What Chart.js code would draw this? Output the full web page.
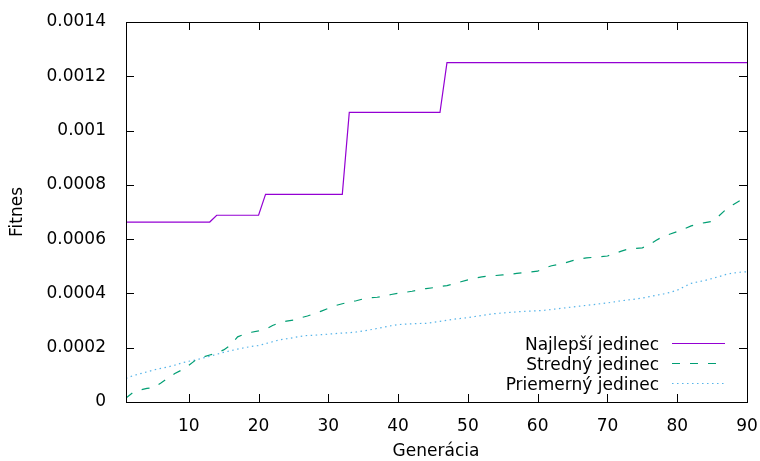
<!DOCTYPE html>
<html>
<head>
<meta charset="utf-8">
<script src="https://cdn.jsdelivr.net/npm/chart.js@4"></script>
<style>
  html, body { margin: 0; padding: 0; background: #fff; }
  #wrap { width: 760px; height: 461px; position: relative; }
</style>
</head>
<body>
<div id="wrap"><canvas id="plots"></canvas></div>
<script>
// generacie 1..90
const generacie = []
for (let g = 1; g <= 90; g++) generacie.push(g)

const najlepsi = [
  0.000663, 0.000663, 0.000663, 0.000663, 0.000663, 0.000663, 0.000663, 0.000663, 0.000663, 0.000663,
  0.000663, 0.000663, 0.000663, 0.000688, 0.000688, 0.000688, 0.000688, 0.000688, 0.000688, 0.000688,
  0.000765, 0.000765, 0.000765, 0.000765, 0.000765, 0.000765, 0.000765, 0.000765, 0.000765, 0.000765,
  0.000765, 0.000765, 0.001067, 0.001067, 0.001067, 0.001067, 0.001067, 0.001067, 0.001067, 0.001067,
  0.001067, 0.001067, 0.001067, 0.001067, 0.001067, 0.001067, 0.00125, 0.00125, 0.00125, 0.00125,
  0.00125, 0.00125, 0.00125, 0.00125, 0.00125, 0.00125, 0.00125, 0.00125, 0.00125, 0.00125,
  0.00125, 0.00125, 0.00125, 0.00125, 0.00125, 0.00125, 0.00125, 0.00125, 0.00125, 0.00125,
  0.00125, 0.00125, 0.00125, 0.00125, 0.00125, 0.00125, 0.00125, 0.00125, 0.00125, 0.00125,
  0.00125, 0.00125, 0.00125, 0.00125, 0.00125, 0.00125, 0.00125, 0.00125, 0.00125, 0.00125
]

const stredny = [
  0.000015, 0.000035, 0.000044, 0.000050, 0.000053, 0.000070, 0.000088, 0.000105, 0.000118, 0.000135,
  0.000155, 0.000165, 0.000173, 0.000180, 0.000192, 0.000210, 0.000240, 0.000250, 0.000257, 0.000262,
  0.000268, 0.000282, 0.000292, 0.000298, 0.000302, 0.000310, 0.000317, 0.000325, 0.000335, 0.000345,
  0.000355, 0.000362, 0.000368, 0.000373, 0.000380, 0.000384, 0.000386, 0.000390, 0.000396, 0.000401,
  0.000404, 0.000408, 0.000413, 0.000418, 0.000421, 0.000425, 0.000429, 0.000435, 0.000443, 0.000450,
  0.000456, 0.000461, 0.000464, 0.000466, 0.000468, 0.000470, 0.000474, 0.000477, 0.000479, 0.000482,
  0.000494, 0.000502, 0.000507, 0.000513, 0.000521, 0.000527, 0.000531, 0.000533, 0.000535, 0.000538,
  0.000546, 0.000556, 0.000564, 0.000566, 0.000568, 0.000580, 0.000596, 0.000610, 0.000619, 0.000628,
  0.000638, 0.000649, 0.000656, 0.000661, 0.000665, 0.000686, 0.000710, 0.000727, 0.000742, 0.000755
]

const priemerny = [
  0.000087, 0.000097, 0.000104, 0.000111, 0.000118, 0.000124, 0.000129, 0.000136, 0.000144, 0.000150,
  0.000155, 0.000162, 0.000168, 0.000176, 0.000183, 0.000189, 0.000195, 0.000200, 0.000205, 0.000208,
  0.000215, 0.000222, 0.000229, 0.000233, 0.000237, 0.000242, 0.000245, 0.000246, 0.000248, 0.000250,
  0.000252, 0.000254, 0.000255, 0.000258, 0.000262, 0.000266, 0.000271, 0.000276, 0.000281, 0.000285,
  0.000287, 0.000288, 0.000289, 0.000290, 0.000293, 0.000297, 0.000301, 0.000305, 0.000308, 0.000311,
  0.000315, 0.000319, 0.000323, 0.000326, 0.000328, 0.000330, 0.000332, 0.000334, 0.000335, 0.000336,
  0.000338, 0.000341, 0.000344, 0.000347, 0.000350, 0.000353, 0.000356, 0.000359, 0.000362, 0.000365,
  0.000369, 0.000373, 0.000376, 0.000379, 0.000383, 0.000388, 0.000393, 0.000398, 0.000404, 0.000412,
  0.000425, 0.000437, 0.000443, 0.000448, 0.000455, 0.000462, 0.000470, 0.000475, 0.000478, 0.000480
]

const nazvy = ['Najlepší jedinec', 'Stredný jedinec', 'Priemerný jedinec']
const xTicky = [10, 20, 30, 40, 50, 60, 70, 80, 90]
const yTicky = [0, 0.0002, 0.0004, 0.0006, 0.0008, 0.001, 0.0012, 0.0014]

const FONT = 'DejaVu Sans'
const farby = ['#9400d3', '#009e73', '#56b4e9']
const ciarky = [[], [8, 10], [1.5, 3.5]]

function body(arr) {
  return arr.map((v, i) => ({ x: generacie[i], y: v }))
}

// ramik, ticky dovnutra, popisy osi a legenda ako v gnuplote
const gnuplotLook = {
  id: 'gnuplotLook',
  afterDraw(chart) {
    const ctx = chart.ctx
    const a = chart.chartArea
    const xs = chart.scales.x
    const ys = chart.scales.y
    ctx.save()
    ctx.strokeStyle = '#000'
    ctx.lineWidth = 1
    ctx.beginPath()
    xTicky.forEach(t => {
      const px = Math.round(xs.getPixelForValue(t)) + 0.5
      ctx.moveTo(px, a.bottom); ctx.lineTo(px, a.bottom - 8)
      ctx.moveTo(px, a.top); ctx.lineTo(px, a.top + 8)
    })
    yTicky.forEach(t => {
      const py = Math.round(ys.getPixelForValue(t)) + 0.5
      ctx.moveTo(a.left, py); ctx.lineTo(a.left + 8, py)
      ctx.moveTo(a.right, py); ctx.lineTo(a.right - 8, py)
    })
    ctx.stroke()
    ctx.strokeRect(Math.round(a.left) + 0.5, Math.round(a.top) + 0.5,
      Math.round(a.right - a.left), Math.round(a.bottom - a.top))

    ctx.fillStyle = '#000'
    ctx.font = '17px "' + FONT + '"'
    ctx.textAlign = 'center'
    ctx.textBaseline = 'middle'
    ctx.fillText('Generácia', 436, 452)
    ctx.save()
    ctx.translate(18, 212)
    ctx.rotate(-Math.PI / 2)
    ctx.fillText('Fitnes', 0, 0)
    ctx.restore()

    // legenda
    ctx.textAlign = 'right'
    ctx.textBaseline = 'alphabetic'
    nazvy.forEach((n, i) => {
      const y = 350 + i * 20
      ctx.fillStyle = '#000'
      ctx.fillText(n, 659, y)
      ctx.strokeStyle = farby[i]
      ctx.lineWidth = 1.2
      ctx.setLineDash(ciarky[i])
      ctx.beginPath()
      ctx.moveTo(672, Math.round(y - 7) + 0.5)
      ctx.lineTo(725, Math.round(y - 7) + 0.5)
      ctx.stroke()
    })
    ctx.setLineDash([])
    ctx.restore()
  }
}

const plots = document.getElementById('plots')
const chart = new Chart(plots, {
  type: 'line',
  data: {
    datasets: [najlepsi, stredny, priemerny].map((arr, i) => ({
      label: nazvy[i],
      data: body(arr),
      borderColor: farby[i],
      borderWidth: 1.2,
      borderDash: ciarky[i],
      pointRadius: 0,
      fill: false,
      tension: 0
    }))
  },
  options: {
    responsive: true,
    maintainAspectRatio: false,
    animation: false,
    layout: { padding: { left: 0, right: 13, top: 22, bottom: 0 } },
    plugins: { legend: { display: false }, tooltip: { enabled: false } },
    scales: {
      x: {
        type: 'linear',
        min: 1,
        max: 90,
        grid: { display: false },
        border: { display: false },
        afterBuildTicks: s => { s.ticks = xTicky.map(v => ({ value: v })) },
        afterFit: s => { s.height = 59; s.paddingLeft = 0; s.paddingRight = 0 },
        ticks: {
          color: '#000',
          font: { family: FONT, size: 17 },
          padding: 6,
          maxRotation: 0,
          autoSkip: false,
          callback: v => String(v)
        }
      },
      y: {
        min: 0,
        max: 0.0014,
        grid: { display: false },
        border: { display: false },
        afterBuildTicks: s => { s.ticks = yTicky.map(v => ({ value: v })) },
        afterFit: s => { s.width = 126; s.paddingTop = 0; s.paddingBottom = 0 },
        ticks: {
          color: '#000',
          font: { family: FONT, size: 17 },
          padding: 12,
          autoSkip: false,
          callback: v => String(Number(v.toFixed(4)))
        }
      }
    }
  },
  plugins: [gnuplotLook]
})
</script>
</body>
</html>
